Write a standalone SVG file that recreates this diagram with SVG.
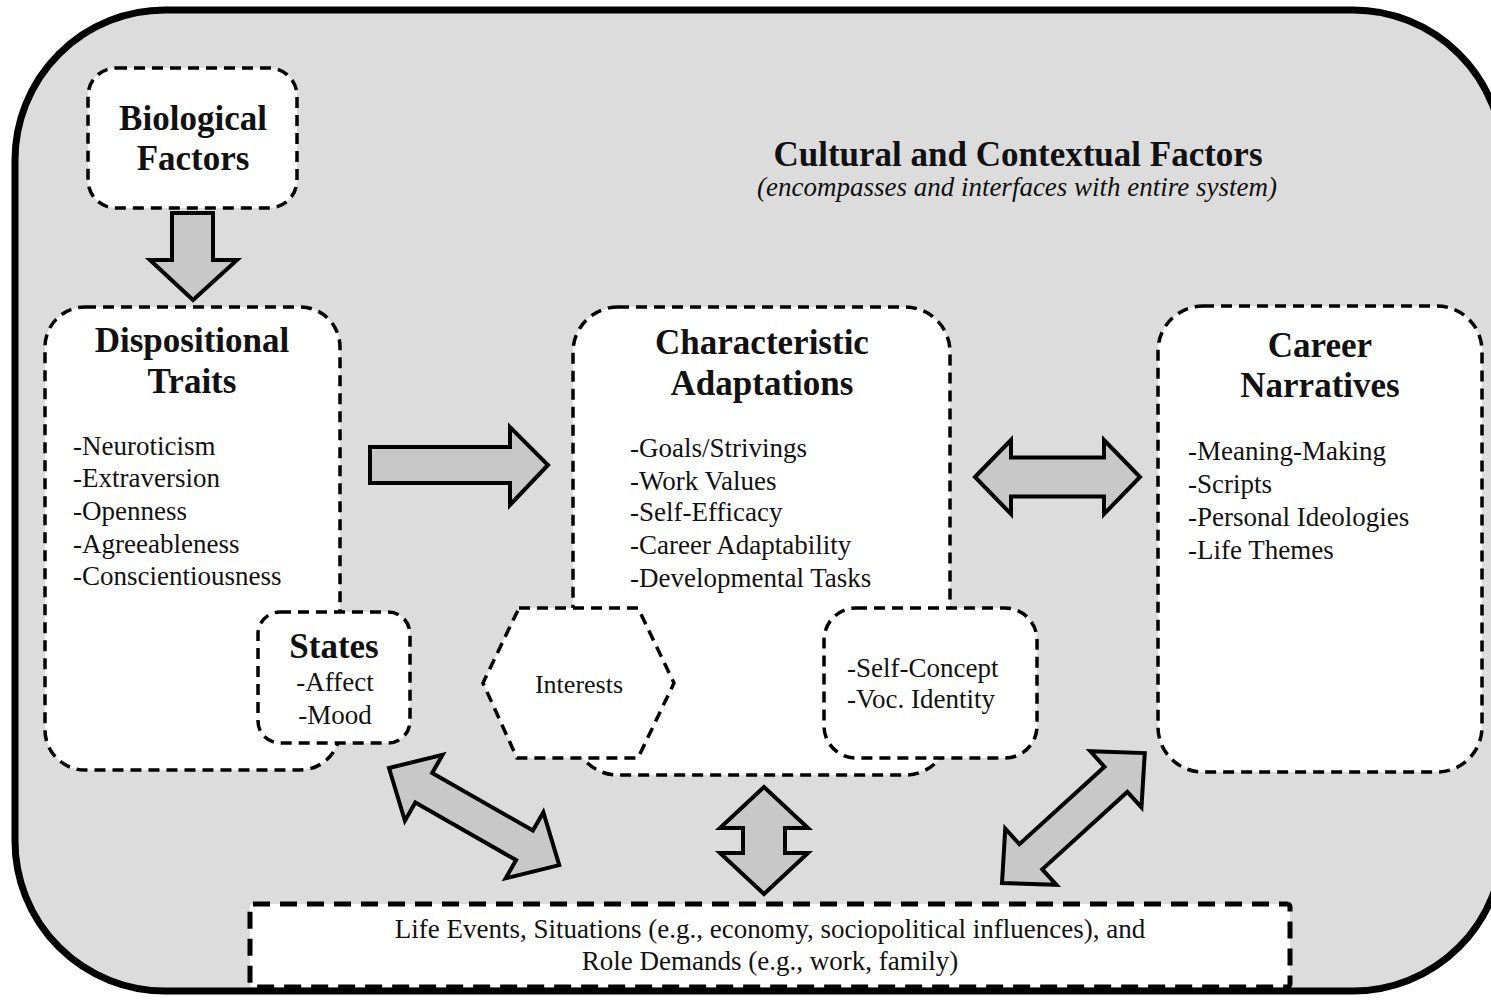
<svg xmlns="http://www.w3.org/2000/svg" width="1491" height="1000" viewBox="0 0 1491 1000">
<style>
.box{fill:#fff;stroke:#000;stroke-width:3.5;stroke-dasharray:11 7;}
.bot{fill:#fff;stroke:#000;stroke-width:5;stroke-dasharray:17 10;}
.arr{fill:#c8c8c8;stroke:#000;stroke-width:4;stroke-linejoin:miter;}
.t{font-family:"Liberation Serif","Times New Roman",serif;fill:#111;}
.h{font-size:35px;font-weight:bold;text-anchor:middle;}
.i{font-size:27px;}
.c{text-anchor:middle;}
</style>
<rect x="0" y="0" width="1491" height="1000" fill="#fff"/>
<rect id="outer" x="15" y="10" width="1488" height="981" rx="150" fill="#dcdcdc" stroke="#000" stroke-width="7"/>
<g id="title">
<text class="t h" x="1018" y="166">Cultural and Contextual Factors</text>
<text class="t c" x="1017" y="196" font-size="27" font-style="italic">(encompasses and interfaces with entire system)</text>
</g>
<g id="biological">
<rect class="box" x="88" y="68" width="209" height="140" rx="28"/>
<text class="t h" x="193" y="130">Biological</text>
<text class="t h" x="193" y="170">Factors</text>
</g>
<g id="dispositional">
<rect class="box" x="45" y="307" width="295" height="463" rx="40"/>
<text class="t h" x="192" y="352">Dispositional</text>
<text class="t h" x="192" y="393">Traits</text>
<text class="t i" x="73" y="455">-Neuroticism</text>
<text class="t i" x="73" y="487">-Extraversion</text>
<text class="t i" x="73" y="520">-Openness</text>
<text class="t i" x="73" y="553">-Agreeableness</text>
<text class="t i" x="73" y="585">-Conscientiousness</text>
</g>
<g id="states">
<rect class="box" x="258" y="612" width="152" height="131" rx="22"/>
<text class="t h" x="334" y="658" font-size="34">States</text>
<text class="t i c" x="335" y="691">-Affect</text>
<text class="t i c" x="335" y="724">-Mood</text>
</g>
<g id="characteristic">
<rect class="box" x="573" y="307" width="377" height="468" rx="45"/>
<text class="t h" x="762" y="354">Characteristic</text>
<text class="t h" x="762" y="395">Adaptations</text>
<text class="t i" x="630" y="457">-Goals/Strivings</text>
<text class="t i" x="630" y="490">-Work Values</text>
<text class="t i" x="630" y="521">-Self-Efficacy</text>
<text class="t i" x="630" y="554">-Career Adaptability</text>
<text class="t i" x="630" y="587">-Developmental Tasks</text>
</g>
<g id="interests">
<polygon class="box" points="519,608 638,608 674,683 638,758 517,758 483,683"/>
<text class="t c" x="579" y="693" font-size="26">Interests</text>
</g>
<g id="selfconcept">
<rect class="box" x="824" y="608" width="213" height="150" rx="32"/>
<text class="t i" x="847" y="677">-Self-Concept</text>
<text class="t i" x="847" y="708">-Voc. Identity</text>
</g>
<g id="career">
<rect class="box" x="1158" y="306" width="324" height="466" rx="45"/>
<text class="t h" x="1320" y="357">Career</text>
<text class="t h" x="1320" y="397">Narratives</text>
<text class="t i" x="1188" y="460">-Meaning-Making</text>
<text class="t i" x="1188" y="493">-Scripts</text>
<text class="t i" x="1188" y="526">-Personal Ideologies</text>
<text class="t i" x="1188" y="559">-Life Themes</text>
</g>
<g id="lifeevents">
<rect class="bot" x="250" y="904" width="1040" height="83" rx="3"/>
<text class="t i c" x="770" y="938">Life Events, Situations (e.g., economy, sociopolitical influences), and</text>
<text class="t i c" x="770" y="970">Role Demands (e.g., work, family)</text>
</g>
<g id="connectors">
<path class="arr" d="M172,213 L213,213 L213,260 L237,260 L193,300 L150,260 L172,260 Z"/>
<path class="arr" d="M370,447 L510,447 L510,427 L548,465 L510,505 L510,483 L370,483 Z"/>
<path class="arr" transform="translate(975,477)" d="M0,0 L36,-37 L36,-19.5 L129,-19.5 L129,-37 L165,0 L129,37 L129,19.5 L36,19.5 L36,37 Z"/>
<path class="arr" transform="translate(389,768) rotate(29.7)" d="M0,0 L40,-38 L40,-17 L156,-17 L156,-38 L196,0 L156,38 L156,17 L40,17 L40,38 Z"/>
<path class="arr" transform="translate(764,787) rotate(90)" d="M0,0 L41,-44 L41,-21 L66,-21 L66,-44 L107,0 L66,44 L66,21 L41,21 L41,44 Z"/>
<path class="arr" transform="translate(1002,883) rotate(-42.3)" d="M0,0 L39,-38 L39,-17 L154,-17 L154,-38 L193,0 L154,38 L154,17 L39,17 L39,38 Z"/>
</g>
</svg>
